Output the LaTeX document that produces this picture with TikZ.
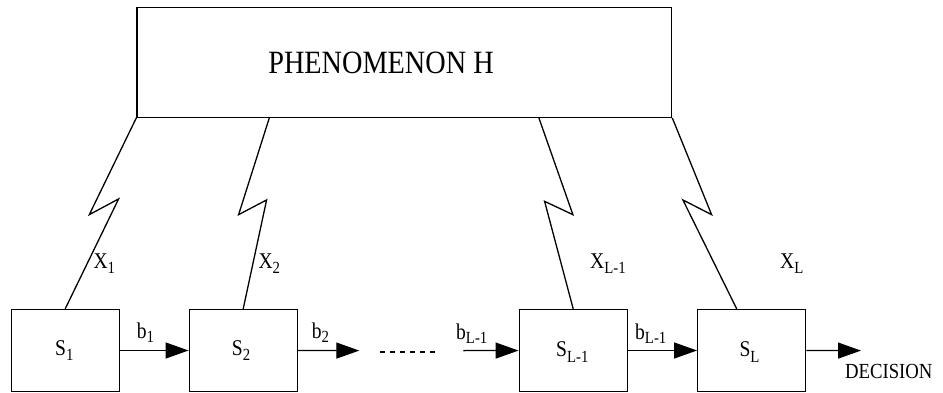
\documentclass[tikz,border=0pt]{standalone}
\usepackage{fontspec}
\setmainfont{Liberation Serif}[FakeStretch=0.87]
\usepackage{tikz}
\usetikzlibrary{arrows.meta,positioning}

\newcommand{\lowidx}[1]{\raisebox{-5.5pt}{\fontsize{17}{17}\selectfont #1}}

\begin{document}
\begin{tikzpicture}[
    x=1pt, y=-1pt,
    sensor/.style={rectangle, draw, line width=1.3pt, minimum width=108pt, minimum height=82pt, inner sep=0pt},
    link/.style={-{Triangle[length=23pt,width=16pt]}, line width=1.3pt},
    zig/.style={line width=1.3pt, line join=miter},
    lbl/.style={anchor=base west, inner sep=0pt, font=\fontsize{22.5}{22.5}\selectfont}
]
    \useasboundingbox (0,0) rectangle (943,393);

    % Phenomenon
    \node[rectangle, draw, line width=1.3pt, minimum width=534.7pt, minimum height=109.8pt] (ph) at (404.3,62.4) {};
    \node[inner sep=0pt, font=\fontsize{32.5}{32.5}\selectfont] (phtext) at (381,62.5) {PHENOMENON H};

    % Sensors
    \node[sensor] (s1)  at (65.2,350.5)  {};
    \node[sensor] (s2)  at (243.2,350.5) {};
    \node[sensor] (sL1) at (573.2,350.5) {};
    \node[sensor] (sL)  at (751.7,350.5) {};

    % Free ends of the chain
    \coordinate (b2end)  at (359.3,350.6);
    \coordinate (dashA)  at (380,352);
    \coordinate (dashB)  at (435,352);
    \coordinate (bL1beg) at (463.3,350.6);
    \coordinate (decend) at (861,350.6);

    % Observations (zigzag links)
    \draw[zig] (ph.south west) -- ++(-47,96.7) -- ++(29.3,-15.7) -- (s1.north);
    \draw[zig] ([xshift=133pt]ph.south west) -- ++(-30.7,96.7) -- ++(28,-14.7) -- (s2.north);
    \draw[zig] ([xshift=-133.4pt]ph.south east) -- ++(34,96.7) -- ++(-28.3,-13.3) -- (sL1.north);
    \draw[zig] (ph.south east) -- ++(39.3,96.7) -- ++(-28.7,-14.7) -- ([xshift=-15pt]sL.north);

    % Decisions passed along
    \draw[link] (s1) -- (s2);
    \draw[link] (s2) -- (b2end);
    \draw[line width=1.3pt, dash pattern=on 5pt off 5pt] (dashA) -- (dashB);
    \draw[link] (bL1beg) -- (sL1);
    \draw[link] (sL1) -- (sL);
    \draw[link] (sL) -- (decend);

    % Labels
    \node[lbl] (lx1)  at (93.3,268.3)  {X\lowidx{1}};
    \node[lbl] (lx2)  at (258.3,268.3) {X\lowidx{2}};
    \node[lbl] (lxL1) at (590,268.3)   {X\lowidx{L-1}};
    \node[lbl] (lxL)  at (780,268.3)   {X\lowidx{L}};
    \node[lbl] (ls1)  at (55,355)      {S\lowidx{1}};
    \node[lbl] (ls2)  at (231.7,355)   {S\lowidx{2}};
    \node[lbl] (lsL1) at (556,356.7)   {S\lowidx{L-1}};
    \node[lbl] (lsL)  at (739.3,356.7) {S\lowidx{L}};
    \node[lbl] (lb1)  at (136.7,338)   {b\raisebox{1.5pt}{\lowidx{1}}};
    \node[lbl] (lb2)  at (311.7,338)   {b\raisebox{1.5pt}{\lowidx{2}}};
    \node[lbl] (lbL1) at (456,339)     {b\raisebox{1.5pt}{\lowidx{L-1}}};
    \node[lbl] (lbL2) at (635,339)     {b\raisebox{1.5pt}{\lowidx{L-1}}};
    \node[lbl, font=\fontsize{21.5}{21.5}\selectfont] (ldec) at (845,378.3) {DECISION};
\end{tikzpicture}
\end{document}
